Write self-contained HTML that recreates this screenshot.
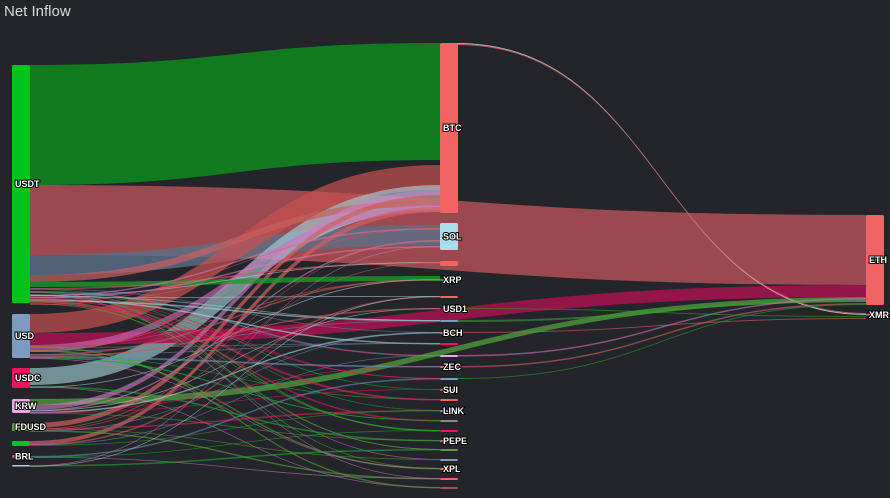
<!DOCTYPE html>
<html><head><meta charset="utf-8"><style>
html,body{margin:0;padding:0;background:#23252a;}
body{width:890px;height:498px;overflow:hidden;font-family:"Liberation Sans",sans-serif;}
.t{position:absolute;left:4px;top:3px;color:#d8d8d8;font-size:15px;}
svg text{font-family:"Liberation Sans",sans-serif;font-size:9px;fill:#fff;stroke:#000;stroke-width:2px;paint-order:stroke;font-weight:bold;}
</style></head><body>
<div class="t">Net Inflow</div>
<svg id="s" width="890" height="498" style="position:absolute;left:0;top:0">
<g id="links"></g><g id="nodes"></g>
</svg>
<script>
var L=document.getElementById('links'),N=document.getElementById('nodes'),ns='http://www.w3.org/2000/svg';
function band(x0,a0,b0,x1,a1,b1,c,o){var xm=(x0+x1)/2;var p=document.createElementNS(ns,'path');
p.setAttribute('d','M'+x0+' '+a0+'C'+xm+' '+a0+' '+xm+' '+a1+' '+x1+' '+a1+'L'+x1+' '+b1+'C'+xm+' '+b1+' '+xm+' '+b0+' '+x0+' '+b0+'Z');
p.setAttribute('fill',c);p.setAttribute('fill-opacity',o||0.75);L.appendChild(p);}
function line(x0,y0,x1,y1,c,w){band(x0,y0,y0+w,x1,y1,y1+w,c,0.6);}
band(30,65,185,440,43,160,'#117a1e',1);
band(30,185,255,866,215,285,'#9a4a4e',1);
band(30,255,275,440,225,245,'#5b6f8a',0.8);
band(30,314,333,440,165,190,'#c85050',0.7);
band(30,368,385,440,185,210,'#a8d8e0',0.6);
band(30,333,345,866,285,297,'#a0144c',0.9);
band(30,399,405,866,297,302,'#4a8a3a',0.9);
band(30,275,282,440,200,206,'#c86060',0.7);
band(30,345,352,440,205,212,'#d070c0',0.6);
band(30,405,410,440,190,196,'#d080c8',0.6);
band(30,423,428,440,195,200,'#d06060',0.7);
band(30,441,445,440,207,212,'#d06060',0.7);
band(30,282,287,440,276,281,'#1a9a2a',0.8);
band(457,43,44,866,314,315,'#c0c0d0',0.9);
band(457,44,45,866,313,314,'#d06060',0.9);
var cols=['#d05858','#6a8ab0','#22aa33','#d078c0','#a8d8e0','#e0205c','#5a9e3a'];
var tgt=[262,279,296,308,320,332,343,355,366,378,389,399,410,420,430,440,449,459,468,478,487,246,240,228];
var src=[288,291,294,297,300,303,350,354,357,386,410,412,428,430,444,456,465,295,299,301,346,356];
for(var i=0;i<src.length;i++){for(var j=0;j<3;j++){var t=tgt[(i*7+j*5)%tgt.length];line(30,src[i]+j*0.5,440,t,cols[(i+j)%cols.length],j==0?1.5:0.8);}}
line(457,320,866,300,'#3a9a3a',2);line(457,355,866,298,'#d070c0',1.5);line(457,366,866,303,'#d06060',1.5);line(457,378,866,304,'#2a9a2a',1);
line(457,308,866,316,'#2aa02a',1);line(457,332,866,318,'#d06060',1);
function node(x,y,h,c,lab,w){var r=document.createElementNS(ns,'rect');r.setAttribute('x',x);r.setAttribute('y',y);r.setAttribute('width',w||18);r.setAttribute('height',h);r.setAttribute('rx',1.5);r.setAttribute('fill',c);N.appendChild(r);
if(lab){var t=document.createElementNS(ns,'text');t.setAttribute('x',x+3);t.setAttribute('y',y+h/2+3);t.textContent=lab;N.appendChild(t);}}
node(12,65,238,'#00c41c','USDT');node(12,314,44,'#7d9ac0','USD');node(12,368,20,'#f0145c','USDC');node(12,399,14,'#e8a8e8','KRW');
node(12,423,8,'#5a9e3a','FDUSD');node(12,441,5,'#00c41c','');node(12,455,3,'#d05858','BRL');node(12,465,1.5,'#a8d8e0','');
node(440,43,170,'#f26464','BTC');node(440,223,27,'#a8e0e8','SOL');node(440,261,5,'#f26464','');
node(440,279,2,'#1aaa2a','XRP');node(440,296,2,'#f26464','');node(440,308,2,'#a0144c','USD1');node(440,320,2,'#7d9ac0','');
node(440,332,2,'#f26464','BCH');node(440,343,2,'#f0145c','');node(440,355,2,'#e8a8e8','');node(440,366,2,'#f26464','ZEC');
node(440,378,2,'#7d9ac0','');node(440,389,2,'#f26464','SUI');node(440,399,2,'#f26464','');node(440,410,2,'#7d9ac0','LINK');
node(440,420,2,'#888','');node(440,430,2,'#f0145c','');node(440,440,2,'#f26464','PEPE');node(440,449,2,'#5a9e3a','');
node(440,459,2,'#7d9ac0','');node(440,468,2,'#f26464','XPL');node(440,478,2,'#f26464','');node(440,487,2,'#a05050','');
node(866,215,90,'#f26464','ETH');node(866,314,1.5,'#f26464','XMR');
</script>
</body></html>
